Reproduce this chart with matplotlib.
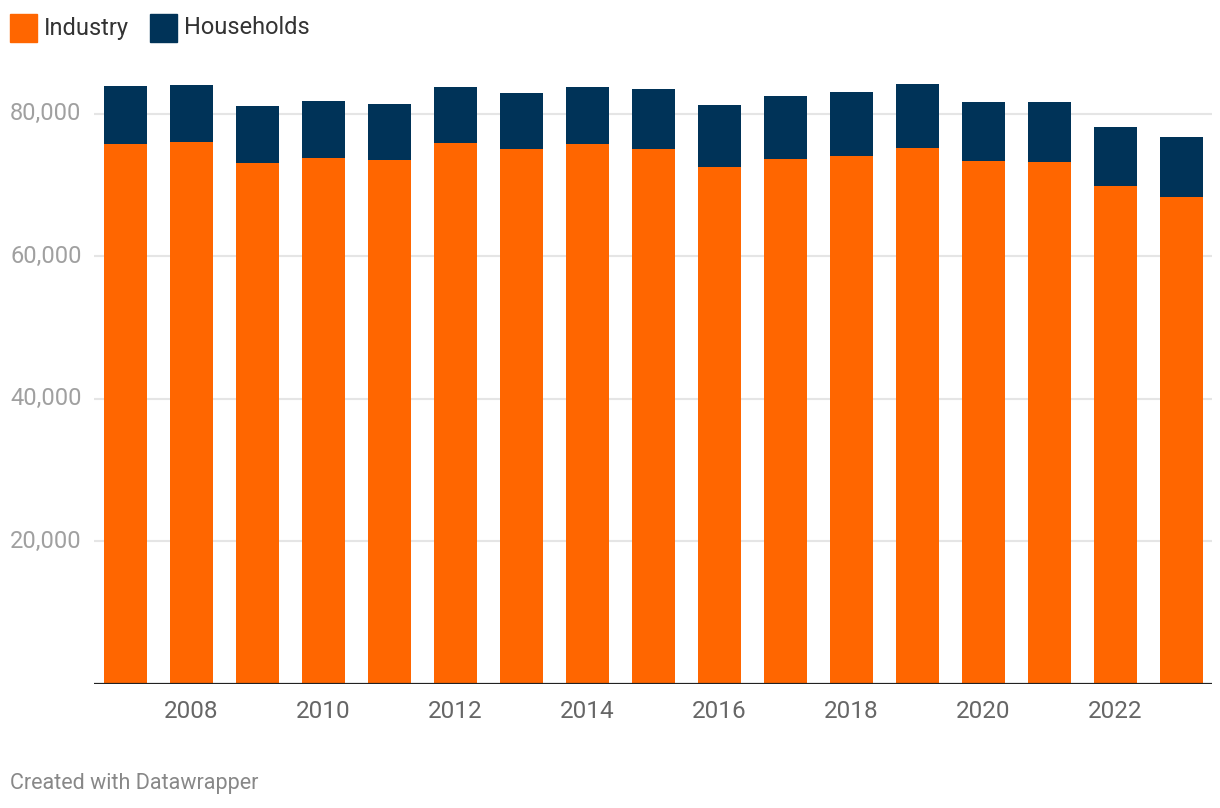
import matplotlib.pyplot as plt
import matplotlib.transforms as mtransforms
from matplotlib.patches import Rectangle

plt.rcParams['font.family'] = ['Roboto', 'DejaVu Sans']

# Data
years = [2007, 2008, 2009, 2010, 2011, 2012, 2013, 2014, 2015,
         2016, 2017, 2018, 2019, 2020, 2021, 2022, 2023]
industry = [75740, 76020, 73070, 73770, 73490, 75870, 75030, 75730, 75030,
            72510, 73630, 74050, 75170, 73350, 73210, 69840, 68290]
households = [8140, 8000, 8000, 8000, 7860, 7860, 7860, 8000, 8420,
              8700, 8840, 8980, 8980, 8280, 8420, 8280, 8420]
x_ticks = [2008, 2010, 2012, 2014, 2016, 2018, 2020, 2022]
y_ticks = [20000, 40000, 60000, 80000]

orange = '#ff6600'
navy = '#003358'

W, H = 1220, 808
fig = plt.figure(figsize=(W / 100, H / 100), dpi=100)

# axes placement in pixels
left_px, right_px = 94, 1212
top_px, bottom_px = 71, 684
ax = fig.add_axes([left_px / W, 1 - bottom_px / H,
                   (right_px - left_px) / W, (bottom_px - top_px) / H])

ax.bar(years, industry, width=0.65, color=orange, zorder=3)
ax.bar(years, households, bottom=industry, width=0.65, color=navy, zorder=3)

x0 = 2007 - (125.5 - left_px) / 66
ax.set_xlim(x0, x0 + (right_px - left_px) / 66)
ax.set_ylim(0, 86000)

for y in y_ticks:
    ax.axhline(y, color='#e5e5e5', lw=1.5, zorder=1)
ax.axhline(0, color='#222222', lw=1.6, zorder=4)

for s in ax.spines.values():
    s.set_visible(False)

ax.set_yticks([])
ax.set_xticks(x_ticks)
ax.set_xticklabels([str(t) for t in x_ticks], fontsize=17.5, color='#666666')
ax.tick_params(axis='x', length=0, pad=11.5)

# y labels at the left edge of the figure
trans = mtransforms.blended_transform_factory(fig.transFigure, ax.transData)
for y in y_ticks:
    ax.text(10 / W, y, f'{y:,}', transform=trans, ha='left', va='center',
            fontsize=17, color='#a0a0a0')

# legend
for (lx, label, col) in [(10, 'Industry', orange), (150, 'Households', navy)]:
    fig.patches.append(Rectangle((lx / W, 1 - 42 / H), 27 / W, 28 / H,
                                 transform=fig.transFigure, color=col))
    fig.text((lx + 34) / W, 1 - 28 / H, label, ha='left', va='center',
             fontsize=17, color='#333333')

fig.text(10 / W, 1 - 783 / H, 'Created with Datawrapper', ha='left',
         va='center', fontsize=15.5, color='#888888')

fig.savefig('out.png', dpi=100, facecolor='white')
